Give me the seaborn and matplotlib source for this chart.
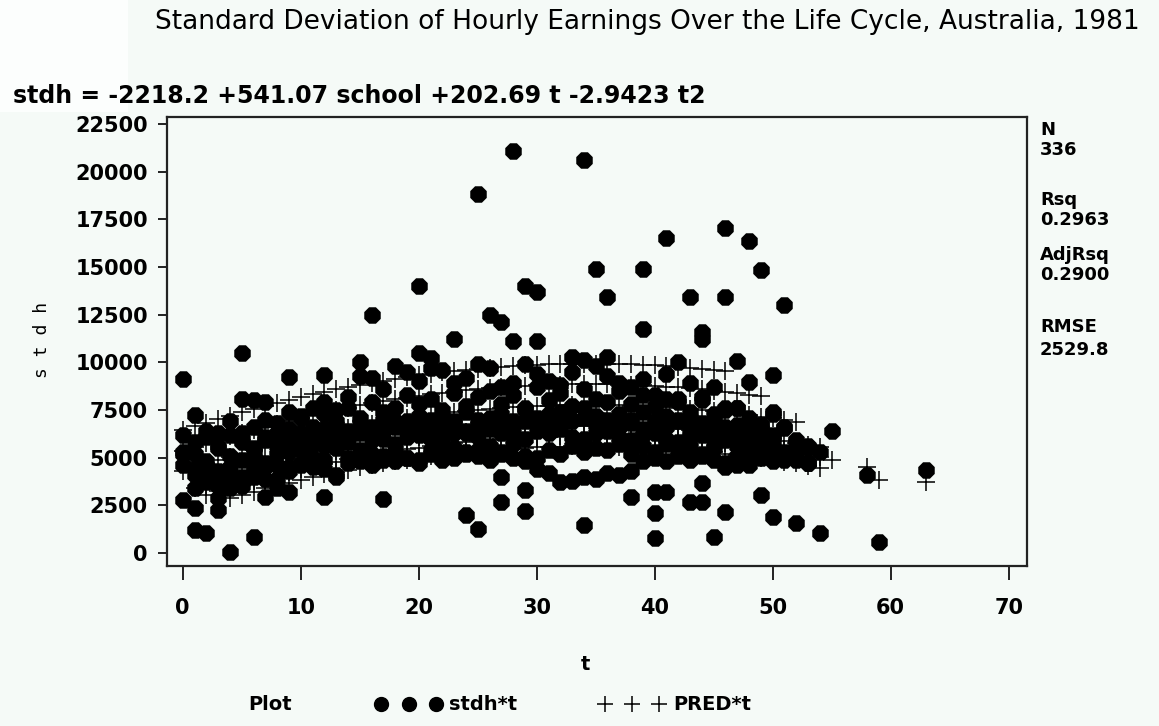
import matplotlib
matplotlib.use("Agg")
import matplotlib.pyplot as plt
from matplotlib.lines import Line2D
from matplotlib.patches import Rectangle
import numpy as np
import pandas as pd
import seaborn as sns

# ---------------- data ----------------
# high / isolated observations
hi_t = [0, 5, 9, 12, 15, 16, 20, 20, 21, 23, 25, 26, 27, 28, 28, 29, 30, 30, 33, 34,
        35, 36, 36, 39, 39, 41, 42, 43, 44, 44, 46, 46, 47, 48, 48, 49, 50, 51, 55, 58, 63]
hi_v = [9100, 10500, 9250, 9350, 10000, 12500, 14000, 10500, 10250, 11200, 18800, 12500,
        12100, 21100, 11100, 14000, 13700, 11100, 10300, 20600, 14900, 13400, 10300, 14900,
        11750, 16500, 10000, 13450, 11600, 11200, 17050, 13450, 10050, 16350, 8950, 14850,
        9350, 13000, 6400, 4100, 4350]
mid_t = [47, 49, 50, 50, 51, 52, 53, 53, 1, 0, 1, 2, 3, 4, 5, 6, 8, 2]
mid_v = [7600, 6700, 7400, 7300, 6550, 5800, 5560, 4720, 4400, 5200, 3400, 3700, 2900,
         3400, 3500, 4000, 3400, 4200]
lo_t = [0, 1, 1, 2, 3, 4, 6, 7, 9, 12, 17, 24, 25, 27, 27, 29, 29, 34, 38, 40, 41, 40, 40,
        43, 44, 44, 45, 46, 49, 50, 52, 54, 59]
lo_v = [2800, 2350, 1200, 1050, 2250, 50, 850, 2950, 3200, 2950, 2850, 2000, 1250, 4000,
        2700, 3300, 2200, 1450, 2950, 3200, 3200, 2100, 800, 2700, 2700, 3650, 850, 2150,
        3050, 1900, 1550, 1050, 600]

# dense band of observations, by experience t
band1_t = list(range(0, 47))
band1_v = [6200, 7250, 6100, 6300, 6900, 8100, 8000, 7900, 6800, 7400,
           7200, 7600, 7900, 7500, 8200, 9300, 9200, 8600, 9800, 9500,
           9000, 9700, 9600, 8900, 9200, 9900, 9700, 8700, 8900, 9900,
           9400, 9000, 8800, 9500, 10100, 9800, 9300, 8900, 8700, 9100,
           8300, 9400, 8100, 8900, 8200, 8700, 7600]
band2_t = list(range(0, 50))
band2_v = [5300, 5800, 6400, 5600, 6200, 5900, 6600, 7000, 6300, 6500,
           7100, 6600, 7300, 6900, 7600, 7100, 7900, 7400, 7600, 8300,
           7800, 8100, 7500, 8400, 7700, 8200, 8500, 7800, 8300, 7600,
           8700, 8000, 8400, 7700, 8600, 8100, 7900, 8500, 7800, 8300,
           7700, 8100, 7900, 7400, 8000, 7300, 7500, 7600, 7100, 6700]
band3_t = list(range(0, 53))
band3_v = [4600, 5200, 4800, 5500, 5100, 5800, 5300, 6100, 5600, 5900,
           6300, 5700, 6500, 6000, 6400, 6800, 6200, 7000, 6600, 6900,
           7200, 6700, 7100, 6800, 7400, 7000, 6600, 7300, 6900, 7500,
           7100, 6800, 7400, 7000, 7600, 7200, 6900, 7300, 7000, 7400,
           6800, 7200, 6900, 7100, 6600, 6900, 6400, 6700, 6300, 6500,
           6100, 6600, 5900]
band4_t = list(range(1, 54))
band4_v = [4100, 4600, 4300, 4500, 4900, 5000, 4700, 5200, 5300,
           5400, 5000, 5600, 5500, 5800, 5400, 5900, 6000, 5700, 6100,
           6200, 6000, 5800, 6300, 6400, 6100, 6500, 6300, 6200, 6000,
           6400, 6300, 6500, 6100, 6000, 6300, 6400, 6100, 5900, 6200,
           6300, 6000, 5800, 6100, 6200, 5700, 5900, 5600, 5800, 5400,
           5700, 5300, 5500, 5600]
band5_t = list(range(2, 55))
band5_v = [3800, 4200, 3600, 4000, 4400, 3900, 4600, 4300,
           4700, 4500, 4900, 4100, 5000, 4800, 5200, 4900, 5300, 5000,
           4900, 5400, 5100, 5500, 5200, 5400, 5600, 5300, 5700, 5100,
           5000, 5400, 5200, 5600, 5300, 5500, 5400, 5700, 5200, 5600,
           5300, 5700, 5400, 5600, 5100, 5500, 4700, 4600, 5200, 5500,
           5100, 4900, 5300, 4700, 5300]
band6_t = list(range(3, 54))
band6_v = [3500, 4100, 3700, 4300, 4500, 3900, 4500,
           4600, 4800, 4400, 4000, 4700, 4900, 4600, 5100, 4800, 5000,
           4700, 5200, 4900, 5000, 5300, 5100, 4900, 5200, 5000, 4800,
           4400, 4200, 3700, 3800, 4000, 3900, 4200, 4100, 4300, 4800,
           5000, 4800, 5100, 4900, 5200, 4900, 4500, 5100, 4600, 5000,
           4800, 5200, 4900, 4700]
band7_t = list(range(5, 51))
band7_v = [6300, 5500, 5900, 6200, 5700,
           5800, 6300, 6000, 6700, 6100, 6300, 6600, 6400, 6900, 6500,
           6600, 7000, 6500, 6900, 6300, 6700, 7100, 6800, 6500, 6900,
           6700, 7300, 6600, 6900, 7100, 6700, 7000, 6600, 6800, 6500,
           6900, 6600, 7000, 6400, 6800, 6300, 6600, 6200, 6400, 6000, 6200]

# predicted values (PRED) by schooling group
pred16_t = list(range(0, 47))
pred16_v = [6439, 6639, 6833, 7021, 7203, 7379, 7549, 7714, 7872, 8025,
            8172, 8313, 8448, 8577, 8700, 8817, 8929, 9034, 9134, 9228,
            9316, 9398, 9474, 9544, 9609, 9667, 9720, 9767, 9808, 9842,
            9872, 9895, 9912, 9924, 9929, 9929, 9923, 9910, 9892, 9869,
            9839, 9803, 9762, 9714, 9661, 9602, 9537]
pred14_t = list(range(0, 50))
pred14_v = [5357, 5557, 5750, 5938, 6121, 6297, 6467, 6632, 6790, 6943,
            7090, 7230, 7365, 7495, 7618, 7735, 7847, 7952, 8052, 8146,
            8234, 8316, 8392, 8462, 8527, 8585, 8638, 8685, 8725, 8760,
            8789, 8813, 8830, 8841, 8847, 8847, 8840, 8828, 8810, 8787,
            8757, 8721, 8680, 8632, 8579, 8520, 8455, 8384, 8307, 8224]
pred12_t = list(range(0, 53))
pred12_v = [4275, 4474, 4668, 4856, 5038, 5215, 5385, 5549, 5708, 5861,
            6007, 6148, 6283, 6412, 6536, 6653, 6764, 6870, 6970, 7064,
            7152, 7234, 7310, 7380, 7444, 7503, 7556, 7602, 7643, 7678,
            7707, 7730, 7748, 7759, 7765, 7764, 7758, 7746, 7728, 7704,
            7675, 7639, 7597, 7550, 7497, 7438, 7372, 7302, 7225, 7142,
            7053, 6959, 6859]
pred10_t = list(range(1, 55))
pred10_v = [3392, 3586, 3774, 3956, 4132, 4303, 4467, 4626, 4778,
            4925, 5066, 5201, 5330, 5454, 5571, 5682, 5788, 5888, 5981,
            6069, 6151, 6228, 6298, 6362, 6421, 6473, 6520, 6561, 6596,
            6625, 6648, 6666, 6677, 6683, 6682, 6676, 6664, 6646, 6622,
            6592, 6557, 6515, 6468, 6415, 6355, 6290, 6219, 6143, 6060,
            5971, 5877, 5776, 5670, 5558]
pred9_t = list(range(2, 56)) + [58, 63]
pred9_v = [3045, 3233, 3415, 3591, 3762, 3926, 4085, 4237,
           4384, 4525, 4660, 4789, 4912, 5030, 5141, 5247, 5347, 5440,
           5528, 5610, 5687, 5757, 5821, 5880, 5932, 5979, 6020, 6055,
           6084, 6107, 6125, 6136, 6142, 6141, 6135, 6123, 6105, 6081,
           6051, 6016, 5974, 5927, 5874, 5814, 5749, 5678, 5602, 5519,
           5430, 5336, 5235, 5129, 5017, 4899, 4510, 3743]
pred8_t = list(range(4, 55)) + [59]
pred8_v = [2874, 3050, 3221, 3385, 3544, 3696,
           3843, 3984, 4119, 4248, 4371, 4489, 4600, 4706, 4806, 4899,
           4987, 5069, 5146, 5216, 5280, 5339, 5391, 5438, 5479, 5514,
           5543, 5566, 5584, 5595, 5601, 5600, 5594, 5582, 5564, 5540,
           5510, 5475, 5433, 5386, 5333, 5273, 5208, 5137, 5061, 4978,
           4889, 4795, 4694, 4588, 4476, 3827]

x_ticks = [0, 10, 20, 30, 40, 50, 60, 70]
y_ticks = [0, 2500, 5000, 7500, 10000, 12500, 15000, 17500, 20000, 22500]
stats = ["N", "336", "Rsq", "0.2963", "AdjRsq", "0.2900", "RMSE", "2529.8"]
title = "Standard Deviation of Hourly Earnings Over the Life Cycle, Australia, 1981"
equation = "stdh = -2218.2 +541.07 school +202.69 t -2.9423 t2"

# ---------------- frames ----------------
obs = pd.DataFrame({
    "t": hi_t + mid_t + lo_t + band1_t + band2_t + band3_t + band4_t + band5_t
         + band6_t + band7_t,
    "stdh": hi_v + mid_v + lo_v + band1_v + band2_v + band3_v + band4_v + band5_v
            + band6_v + band7_v,
})
pred = pd.DataFrame({
    "t": pred16_t + pred14_t + pred12_t + pred10_t + pred9_t + pred8_t,
    "PRED": pred16_v + pred14_v + pred12_v + pred10_v + pred9_v + pred8_v,
})

# ---------------- figure ----------------
sns.set_style("white")
plt.rcParams['font.family'] = ['DejaVu Sans']
plt.rcParams['text.color'] = 'black'
plt.rcParams['xtick.color'] = 'black'
plt.rcParams['ytick.color'] = 'black'
BG = "#f5faf7"
W, H = 1159, 726
fig = plt.figure(figsize=(W / 100, H / 100), dpi=100, facecolor=BG)
fig.patches.append(Rectangle((0, 1 - 112 / H), 128 / W, 112 / H, transform=fig.transFigure,
                             facecolor="#fcfefd", edgecolor="none", zorder=0))

ax = fig.add_axes([166.7 / W, 1 - 566 / H, 860 / W, 449 / H])
ax.set_facecolor(BG)

sns.scatterplot(data=obs, x="t", y="stdh", marker="8", s=165, color="black",
                edgecolor="black", linewidth=0, ax=ax, legend=False, zorder=2)
sns.scatterplot(data=pred, x="t", y="PRED", marker="+", s=170, color="black",
                linewidth=1.1, ax=ax, legend=False, zorder=3)

ax.set_xlim(-1.36, 71.53)
ax.set_ylim(-682, 22863)
ax.set_xticks(x_ticks)
ax.set_yticks(y_ticks)
ax.set_xticklabels([str(v) for v in x_ticks], fontweight="bold", fontsize=15)
ax.set_yticklabels([str(v) for v in y_ticks], fontweight="bold", fontsize=15)
ax.tick_params(axis="x", bottom=True, direction="out", length=10, width=1.4, pad=13,
               color="#222222", labelcolor="black")
ax.tick_params(axis="y", left=True, direction="out", length=6.5, width=1.4, pad=7,
               color="#222222", labelcolor="black")
ax.set_xlabel("")
ax.set_ylabel("")
for sp in ax.spines.values():
    sp.set_color("#222222")
    sp.set_linewidth(1.6)

# texts
fig.text(155 / W, 1 - 22 / H, title, fontsize=19, ha="left", va="center", color="black")
fig.text(13 / W, 1 - 96 / H, equation, fontsize=17, fontweight="bold", ha="left",
         va="center")
fig.text(585 / W, 1 - 665 / H, "t", fontsize=14, fontweight="bold", ha="center", va="center")
fig.text(42 / W, 1 - 340 / H, "s t d h", fontsize=13, family="DejaVu Sans Mono",
         rotation=90, ha="center", va="center")

stat_y = [130, 150, 200, 220, 255, 275, 327, 350]
for s_txt, yy in zip(stats, stat_y):
    fig.text(1040 / W, 1 - yy / H, s_txt, fontsize=13, fontweight="bold", ha="left",
             va="center")

# legend
fig.text(248 / W, 1 - 705 / H, "Plot", fontsize=14, fontweight="bold", ha="left", va="center")
handles = [Line2D([], [], marker="o", linestyle="none", color="black", markersize=10),
           Line2D([], [], marker="+", linestyle="none", color="black", markersize=11,
                  markeredgewidth=1.1)]
fig.legend(handles, ["stdh*t", "PRED*t"], ncol=2, numpoints=3, frameon=False,
           loc="center left", bbox_to_anchor=(358 / W, 1 - 705 / H),
           prop={"weight": "bold", "size": 14}, handlelength=3.4, handletextpad=0.4,
           columnspacing=4.2)

fig.savefig("out.png", dpi=100, facecolor=BG)
